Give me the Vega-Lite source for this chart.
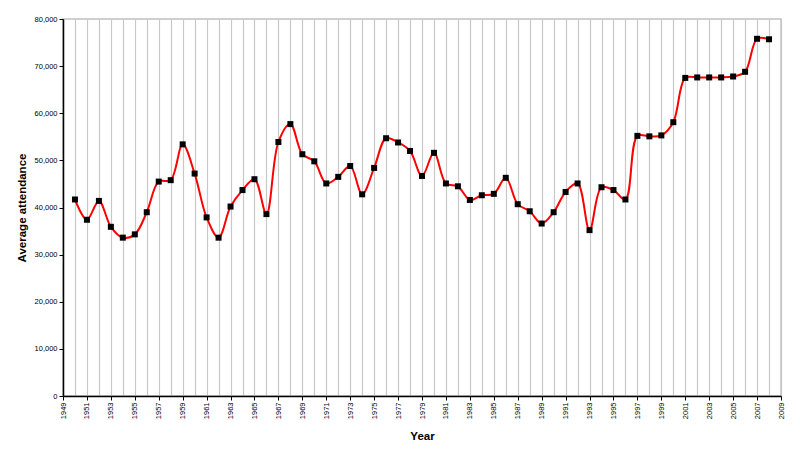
{
  "$schema": "https://vega.github.io/schema/vega-lite/v6.json",
  "width": 718,
  "height": 377,
  "autosize": {"type": "none"},
  "padding": {"left": 63, "top": 19, "right": 19, "bottom": 57},
  "background": "white",
  "config": {
    "font": "Liberation Sans",
    "view": {"stroke": "#c0c0c0", "strokeWidth": 1.5},
    "axis": {"labelFont": "Liberation Sans", "titleFont": "Liberation Sans"}
  },
  "data": {
    "values": [
      {"year": 1950, "attendance": 41700},
      {"year": 1951, "attendance": 37400},
      {"year": 1952, "attendance": 41400},
      {"year": 1953, "attendance": 35900},
      {"year": 1954, "attendance": 33600},
      {"year": 1955, "attendance": 34300},
      {"year": 1956, "attendance": 39000},
      {"year": 1957, "attendance": 45500},
      {"year": 1958, "attendance": 45800},
      {"year": 1959, "attendance": 53400},
      {"year": 1960, "attendance": 47200},
      {"year": 1961, "attendance": 37900},
      {"year": 1962, "attendance": 33600},
      {"year": 1963, "attendance": 40200},
      {"year": 1964, "attendance": 43700},
      {"year": 1965, "attendance": 46000},
      {"year": 1966, "attendance": 38600},
      {"year": 1967, "attendance": 53900},
      {"year": 1968, "attendance": 57700},
      {"year": 1969, "attendance": 51300},
      {"year": 1970, "attendance": 49800},
      {"year": 1971, "attendance": 45100},
      {"year": 1972, "attendance": 46500},
      {"year": 1973, "attendance": 48800},
      {"year": 1974, "attendance": 42800},
      {"year": 1975, "attendance": 48400},
      {"year": 1976, "attendance": 54700},
      {"year": 1977, "attendance": 53800},
      {"year": 1978, "attendance": 52000},
      {"year": 1979, "attendance": 46700},
      {"year": 1980, "attendance": 51600},
      {"year": 1981, "attendance": 45100},
      {"year": 1982, "attendance": 44500},
      {"year": 1983, "attendance": 41600},
      {"year": 1984, "attendance": 42600},
      {"year": 1985, "attendance": 42900},
      {"year": 1986, "attendance": 46300},
      {"year": 1987, "attendance": 40700},
      {"year": 1988, "attendance": 39200},
      {"year": 1989, "attendance": 36600},
      {"year": 1990, "attendance": 39000},
      {"year": 1991, "attendance": 43300},
      {"year": 1992, "attendance": 45100},
      {"year": 1993, "attendance": 35200},
      {"year": 1994, "attendance": 44300},
      {"year": 1995, "attendance": 43700},
      {"year": 1996, "attendance": 41700},
      {"year": 1997, "attendance": 55200},
      {"year": 1998, "attendance": 55100},
      {"year": 1999, "attendance": 55300},
      {"year": 2000, "attendance": 58100},
      {"year": 2001, "attendance": 67500},
      {"year": 2002, "attendance": 67600},
      {"year": 2003, "attendance": 67600},
      {"year": 2004, "attendance": 67600},
      {"year": 2005, "attendance": 67800},
      {"year": 2006, "attendance": 68800},
      {"year": 2007, "attendance": 75800},
      {"year": 2008, "attendance": 75700}
    ]
  },
  "encoding": {
    "x": {
      "field": "year",
      "type": "quantitative",
      "scale": {"domain": [1949, 2009], "nice": false, "zero": false},
      "axis": {
        "title": "Year",
        "titleFontSize": 11.5,
        "titleFontWeight": "bold",
        "titlePadding": 12,
        "values": [1949,1950,1951,1952,1953,1954,1955,1956,1957,1958,1959,1960,1961,1962,1963,1964,1965,1966,1967,1968,1969,1970,1971,1972,1973,1974,1975,1976,1977,1978,1979,1980,1981,1982,1983,1984,1985,1986,1987,1988,1989,1990,1991,1992,1993,1994,1995,1996,1997,1998,1999,2000,2001,2002,2003,2004,2005,2006,2007,2008,2009],
        "format": "d",
        "labelExpr": "datum.value % 2 == 1 ? datum.label : ''",
        "labelAngle": -90,
        "labelAlign": "right",
        "labelBaseline": "middle",
        "labelFontSize": 7.5,
        "labelColor": "black",
        "labelPadding": 2,
        "labelOverlap": false,
        "labelFlush": false,
        "tickSize": 4,
        "tickColor": "black",
        "tickOpacity": {"condition": {"test": "datum.value % 2 == 0", "value": 0}, "value": 1},
        "domainColor": "black",
        "domainWidth": 1.5,
        "grid": true,
        "gridColor": "#c8c8c8",
        "gridWidth": 1.2,
        "titleColor": "black"
      }
    },
    "y": {
      "field": "attendance",
      "type": "quantitative",
      "scale": {"domain": [0, 80000], "nice": false},
      "axis": {
        "title": "Average attendance",
        "titleFontSize": 11.5,
        "titleFontWeight": "bold",
        "titleColor": "black",
        "titlePadding": 7,
        "values": [0, 10000, 20000, 30000, 40000, 50000, 60000, 70000, 80000],
        "format": ",.0f",
        "labelFontSize": 7.5,
        "labelColor": "black",
        "labelPadding": 2,
        "tickSize": 4,
        "tickColor": "black",
        "domainColor": "black",
        "domainWidth": 1.5,
        "grid": false
      }
    }
  },
  "layer": [
    {
      "mark": {"type": "line", "color": "#ff0000", "strokeWidth": 2, "interpolate": "catmull-rom"}
    },
    {
      "mark": {"type": "point", "shape": "square", "filled": true, "color": "black", "opacity": 1, "size": 36}
    }
  ]
}
